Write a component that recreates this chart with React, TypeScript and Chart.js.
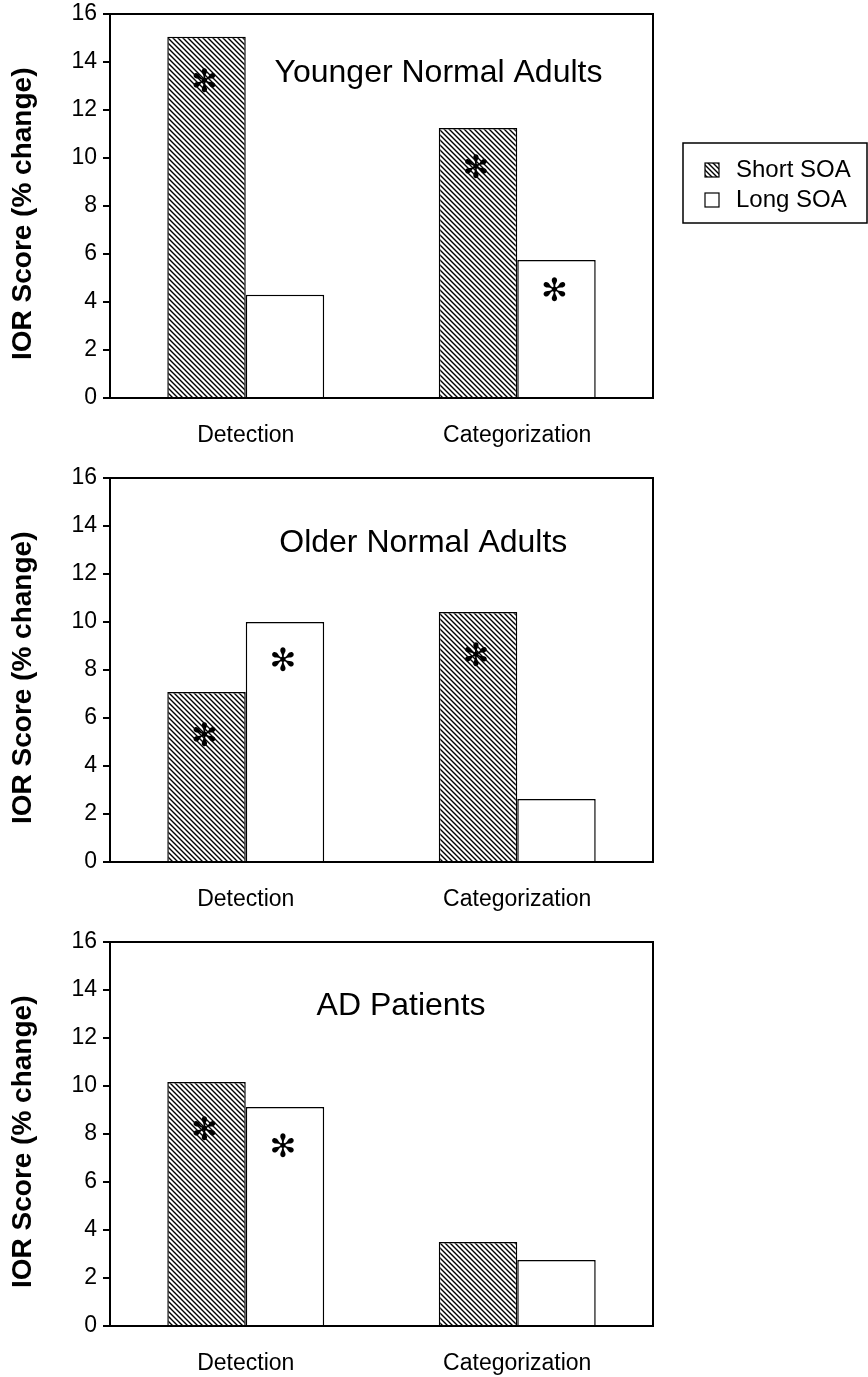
import React, { useEffect, useRef } from "react";
import { Chart, registerables } from "chart.js";

Chart.register(...registerables);

// ---------- data ----------
const categories = ["Detection", "Categorization"];
const seriesNames = ["Short SOA", "Long SOA"];
const yAxisTitle = "IOR Score (% change)";
const yMin = 0;
const yMax = 16;
const yStep = 2;

const panelTitles = ["Younger Normal Adults", "Older Normal Adults", "AD Patients"];

const youngerShort = [15.05, 11.25];
const youngerLong = [4.3, 5.75];
const olderShort = [7.08, 10.42];
const olderLong = [10.0, 2.63];
const adShort = [10.17, 3.5];
const adLong = [9.13, 2.75];

// significance asterisks: value level at which each mark sits (null = no mark)
const youngerShortStars: (number | null)[] = [13.1, 9.5];
const youngerLongStars: (number | null)[] = [null, 4.4];
const olderShortStars: (number | null)[] = [5.2, 8.5];
const olderLongStars: (number | null)[] = [8.3, null];
const adShortStars: (number | null)[] = [8.1, null];
const adLongStars: (number | null)[] = [7.4, null];

// ---------- style ----------
const FONT = "'Liberation Sans', Arial, Helvetica, sans-serif";
const W = 868;
const H = 449;

function makeHatch(): CanvasPattern | string {
  const s = 5;
  const c = document.createElement("canvas");
  c.width = s;
  c.height = s;
  const g = c.getContext("2d");
  if (!g) return "#888";
  g.fillStyle = "#fff";
  g.fillRect(0, 0, s, s);
  g.strokeStyle = "#000";
  g.lineWidth = 1.4;
  g.beginPath();
  g.moveTo(-1, -1);
  g.lineTo(s + 1, s + 1);
  g.moveTo(-1, s - 1);
  g.lineTo(1, s + 1);
  g.moveTo(s - 1, -1);
  g.lineTo(s + 1, 1);
  g.stroke();
  const p = g.createPattern(c, "repeat");
  return p || "#888";
}

type PanelProps = {
  top: number;
  title: string;
  titleX: number; // fraction of plot width
  titleDy: number; // px below plot top
  shortVals: number[];
  longVals: number[];
  shortStars: (number | null)[];
  longStars: (number | null)[];
  legend?: boolean;
};

function Panel(props: PanelProps) {
  const ref = useRef<HTMLCanvasElement>(null);
  useEffect(() => {
    const canvas = ref.current;
    if (!canvas) return;
    const hatch = makeHatch();
    const {
      title,
      titleX,
      titleDy,
      shortVals,
      longVals,
      shortStars,
      longStars,
      legend,
    } = props;

    const decor = {
      id: "panelDecor",
      afterDraw(chart: any) {
        const { ctx, chartArea, scales } = chart;
        const ys = scales.y;
        ctx.save();
        // asterisks
        ctx.fillStyle = "#000";
        ctx.textAlign = "center";
        ctx.textBaseline = "middle";
        ctx.font = "bold 32px 'DejaVu Sans'";
        [shortStars, longStars].forEach((arr, di) => {
          const meta = chart.getDatasetMeta(di);
          arr.forEach((v, j) => {
            if (v == null) return;
            const el = meta.data[j];
            ctx.fillText("\u273B", el.x - 2, ys.getPixelForValue(v));
          });
        });
        // panel title
        ctx.font = `32px ${FONT}`;
        ctx.fillText(
          title,
          chartArea.left + chartArea.width * titleX,
          chartArea.top + titleDy
        );
        // frame
        ctx.lineWidth = 2;
        ctx.strokeStyle = "#000";
        ctx.strokeRect(
          chartArea.left,
          chartArea.top,
          chartArea.right - chartArea.left,
          chartArea.bottom - chartArea.top
        );
        // legend
        if (legend) {
          const bx = 683;
          const by = 143;
          const bw = 184;
          const bh = 80;
          ctx.lineWidth = 1.5;
          ctx.strokeRect(bx, by, bw, bh);
          const rows = [170, 200];
          ctx.font = `24px ${FONT}`;
          ctx.textAlign = "left";
          chart.data.datasets.forEach((ds: any, i: number) => {
            const cy = rows[i];
            ctx.fillStyle = ds.backgroundColor;
            ctx.fillRect(705, cy - 7, 14, 14);
            ctx.lineWidth = 1.2;
            ctx.strokeRect(705, cy - 7, 14, 14);
            ctx.fillStyle = "#000";
            ctx.fillText(ds.label, 736, cy);
          });
        }
        ctx.restore();
      },
    };

    const chart = new Chart(canvas, {
      type: "bar",
      data: {
        labels: categories,
        datasets: [
          {
            label: seriesNames[0],
            data: shortVals,
            backgroundColor: hatch as any,
            borderColor: "#000",
            borderWidth: 1.5,
          },
          {
            label: seriesNames[1],
            data: longVals,
            backgroundColor: "#fff",
            borderColor: "#000",
            borderWidth: 1.5,
          },
        ],
      },
      options: {
        responsive: false,
        animation: false,
        devicePixelRatio: 1,
        layout: { padding: { top: 14, right: 215, left: 0, bottom: 0 } },
        datasets: { bar: { categoryPercentage: 0.578, barPercentage: 1 } },
        plugins: {
          legend: { display: false },
          tooltip: { enabled: false },
          title: { display: false },
        },
        scales: {
          x: {
            grid: { display: false, drawTicks: false },
            border: { display: false },
            ticks: {
              color: "#000",
              font: { family: FONT, size: 23 },
              padding: 24,
            },
            afterFit: (s: any) => {
              s.height = 51;
              s.paddingLeft = 0;
              s.paddingRight = 0;
            },
          },
          y: {
            min: yMin,
            max: yMax,
            ticks: {
              stepSize: yStep,
              color: "#000",
              font: { family: FONT, size: 23 },
              padding: 6,
            },
            grid: {
              drawOnChartArea: false,
              drawTicks: true,
              tickLength: 7,
              color: "#000",
              lineWidth: 2,
            },
            border: { display: false },
            title: {
              display: true,
              text: yAxisTitle + "\u00A0\u00A0",
              color: "#000",
              font: { family: FONT, size: 28, weight: "bold" },
              padding: { top: 6, bottom: 0 },
            },
            afterFit: (s: any) => {
              s.width = 110;
              s.paddingTop = 0;
              s.paddingBottom = 0;
            },
          },
        },
      } as any,
      plugins: [decor],
    });
    return () => chart.destroy();
  }, []);

  return (
    <canvas
      ref={ref}
      width={W}
      height={H}
      style={{ position: "absolute", left: 0, top: props.top, width: W, height: H }}
    />
  );
}

export default function App() {
  return (
    <div
      style={{
        position: "absolute",
        left: 0,
        top: 0,
        width: 868,
        height: 1377,
        background: "#fff",
        overflow: "hidden",
      }}
    >
      <Panel
        top={0}
        title={panelTitles[0]}
        titleX={0.605}
        titleDy={59}
        shortVals={youngerShort}
        longVals={youngerLong}
        shortStars={youngerShortStars}
        longStars={youngerLongStars}
        legend
      />
      <Panel
        top={464}
        title={panelTitles[1]}
        titleX={0.577}
        titleDy={65}
        shortVals={olderShort}
        longVals={olderLong}
        shortStars={olderShortStars}
        longStars={olderLongStars}
      />
      <Panel
        top={928}
        title={panelTitles[2]}
        titleX={0.536}
        titleDy={64}
        shortVals={adShort}
        longVals={adLong}
        shortStars={adShortStars}
        longStars={adLongStars}
      />
    </div>
  );
}
